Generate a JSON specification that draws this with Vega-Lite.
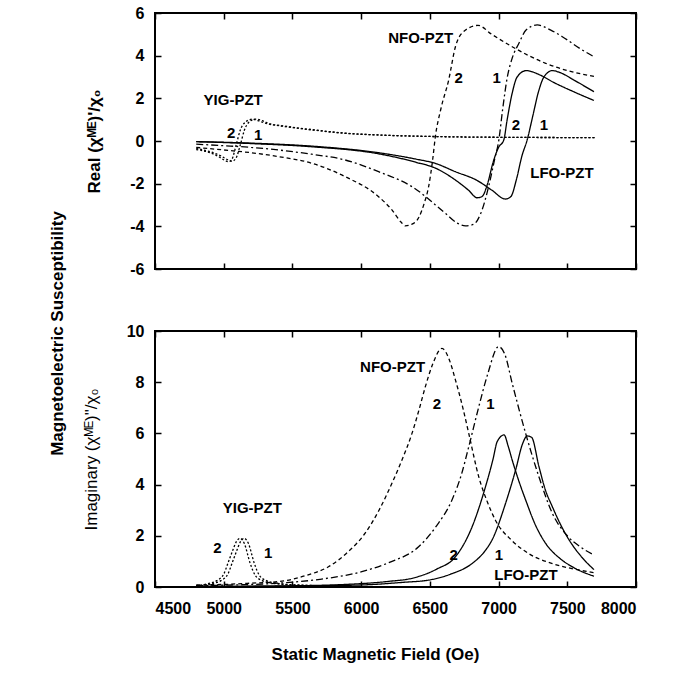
{
  "$schema": "https://vega.github.io/schema/vega-lite/v6.json",
  "background": "white",
  "padding": {"left": 49, "top": 4, "right": 5, "bottom": 2},
  "title": {"text": "Magnetoelectric Susceptibility", "orient": "left", "anchor": "middle", "font": "Liberation Sans", "fontSize": 17, "fontWeight": "bold", "color": "black", "offset": 14},
  "config": {
    "view": {"stroke": "black", "strokeWidth": 2},
    "axis": {"labelFont": "Liberation Sans", "labelFontWeight": "bold", "labelFontSize": 16, "labelColor": "black", "labelExpr": "'' + datum.value", "tickColor": "black", "tickSize": -6, "tickWidth": 1.5, "domain": false, "grid": false, "titleFont": "Liberation Sans", "titleFontSize": 17, "titleColor": "black"}
  },
  "datasets": {
    "real": [
      {"s":"YIG2","H":4800,"v":-0.40},{"s":"YIG2","H":4900,"v":-0.55},{"s":"YIG2","H":4960,"v":-0.72},{"s":"YIG2","H":5000,"v":-0.88},{"s":"YIG2","H":5035,"v":-0.97},{"s":"YIG2","H":5060,"v":-0.85},{"s":"YIG2","H":5090,"v":-0.2},{"s":"YIG2","H":5120,"v":0.5},{"s":"YIG2","H":5160,"v":0.9},{"s":"YIG2","H":5205,"v":1.02},{"s":"YIG2","H":5250,"v":0.95},{"s":"YIG2","H":5320,"v":0.8},{"s":"YIG2","H":5397,"v":0.72},{"s":"YIG2","H":5640,"v":0.52},{"s":"YIG2","H":5884,"v":0.36},{"s":"YIG2","H":6127,"v":0.28},{"s":"YIG2","H":6613,"v":0.2},{"s":"YIG2","H":7100,"v":0.17},{"s":"YIG2","H":7700,"v":0.16},
      {"s":"YIG1","H":4800,"v":-0.35},{"s":"YIG1","H":4900,"v":-0.5},{"s":"YIG1","H":4980,"v":-0.7},{"s":"YIG1","H":5030,"v":-0.88},{"s":"YIG1","H":5060,"v":-0.95},{"s":"YIG1","H":5090,"v":-0.8},{"s":"YIG1","H":5120,"v":-0.2},{"s":"YIG1","H":5150,"v":0.5},{"s":"YIG1","H":5190,"v":0.92},{"s":"YIG1","H":5235,"v":1.03},{"s":"YIG1","H":5280,"v":0.95},{"s":"YIG1","H":5340,"v":0.8},{"s":"YIG1","H":5420,"v":0.72},{"s":"YIG1","H":5660,"v":0.52},{"s":"YIG1","H":5900,"v":0.36},{"s":"YIG1","H":6140,"v":0.28},{"s":"YIG1","H":6620,"v":0.2},{"s":"YIG1","H":7100,"v":0.17},{"s":"YIG1","H":7700,"v":0.16},
      {"s":"NFO2","H":4800,"v":-0.3},{"s":"NFO2","H":5000,"v":-0.42},{"s":"NFO2","H":5200,"v":-0.55},{"s":"NFO2","H":5397,"v":-0.73},{"s":"NFO2","H":5640,"v":-1.04},{"s":"NFO2","H":5884,"v":-1.67},{"s":"NFO2","H":6127,"v":-2.61},{"s":"NFO2","H":6224,"v":-3.23},{"s":"NFO2","H":6290,"v":-3.8},{"s":"NFO2","H":6321,"v":-3.98},{"s":"NFO2","H":6370,"v":-3.9},{"s":"NFO2","H":6418,"v":-3.6},{"s":"NFO2","H":6460,"v":-2.9},{"s":"NFO2","H":6491,"v":-2.14},{"s":"NFO2","H":6520,"v":-0.9},{"s":"NFO2","H":6540,"v":0.2},{"s":"NFO2","H":6580,"v":1.5},{"s":"NFO2","H":6637,"v":2.86},{"s":"NFO2","H":6686,"v":4.42},{"s":"NFO2","H":6740,"v":5.1},{"s":"NFO2","H":6850,"v":5.42},{"s":"NFO2","H":6950,"v":5.0},{"s":"NFO2","H":7099,"v":4.42},{"s":"NFO2","H":7343,"v":3.64},{"s":"NFO2","H":7500,"v":3.3},{"s":"NFO2","H":7694,"v":3.03},
      {"s":"NFO1","H":4800,"v":-0.15},{"s":"NFO1","H":5000,"v":-0.22},{"s":"NFO1","H":5200,"v":-0.3},{"s":"NFO1","H":5397,"v":-0.42},{"s":"NFO1","H":5640,"v":-0.62},{"s":"NFO1","H":5884,"v":-0.89},{"s":"NFO1","H":6127,"v":-1.44},{"s":"NFO1","H":6370,"v":-2.14},{"s":"NFO1","H":6613,"v":-3.39},{"s":"NFO1","H":6700,"v":-3.85},{"s":"NFO1","H":6759,"v":-3.98},{"s":"NFO1","H":6820,"v":-3.9},{"s":"NFO1","H":6870,"v":-3.4},{"s":"NFO1","H":6929,"v":-2.1},{"s":"NFO1","H":6970,"v":-0.9},{"s":"NFO1","H":7002,"v":0.05},{"s":"NFO1","H":7030,"v":1.5},{"s":"NFO1","H":7062,"v":2.94},{"s":"NFO1","H":7100,"v":3.9},{"s":"NFO1","H":7148,"v":4.58},{"s":"NFO1","H":7200,"v":5.2},{"s":"NFO1","H":7281,"v":5.44},{"s":"NFO1","H":7380,"v":5.2},{"s":"NFO1","H":7464,"v":4.89},{"s":"NFO1","H":7600,"v":4.3},{"s":"NFO1","H":7694,"v":3.95},
      {"s":"LFO2","H":4800,"v":-0.03},{"s":"LFO2","H":5200,"v":-0.12},{"s":"LFO2","H":5640,"v":-0.27},{"s":"LFO2","H":6127,"v":-0.6},{"s":"LFO2","H":6400,"v":-1.0},{"s":"LFO2","H":6540,"v":-1.27},{"s":"LFO2","H":6686,"v":-1.83},{"s":"LFO2","H":6780,"v":-2.3},{"s":"LFO2","H":6844,"v":-2.66},{"s":"LFO2","H":6880,"v":-2.6},{"s":"LFO2","H":6920,"v":-2.0},{"s":"LFO2","H":6960,"v":-1.0},{"s":"LFO2","H":7000,"v":-0.3},{"s":"LFO2","H":7038,"v":0.05},{"s":"LFO2","H":7062,"v":0.98},{"s":"LFO2","H":7099,"v":2.24},{"s":"LFO2","H":7135,"v":3.0},{"s":"LFO2","H":7201,"v":3.3},{"s":"LFO2","H":7300,"v":3.1},{"s":"LFO2","H":7400,"v":2.75},{"s":"LFO2","H":7550,"v":2.3},{"s":"LFO2","H":7694,"v":1.9},
      {"s":"LFO1","H":4800,"v":-0.03},{"s":"LFO1","H":5200,"v":-0.1},{"s":"LFO1","H":5640,"v":-0.24},{"s":"LFO1","H":6127,"v":-0.55},{"s":"LFO1","H":6400,"v":-0.85},{"s":"LFO1","H":6540,"v":-1.05},{"s":"LFO1","H":6686,"v":-1.44},{"s":"LFO1","H":6844,"v":-1.85},{"s":"LFO1","H":6950,"v":-2.3},{"s":"LFO1","H":7050,"v":-2.72},{"s":"LFO1","H":7090,"v":-2.6},{"s":"LFO1","H":7130,"v":-1.8},{"s":"LFO1","H":7170,"v":-0.7},{"s":"LFO1","H":7208,"v":0.05},{"s":"LFO1","H":7250,"v":1.2},{"s":"LFO1","H":7290,"v":2.3},{"s":"LFO1","H":7330,"v":3.0},{"s":"LFO1","H":7391,"v":3.3},{"s":"LFO1","H":7450,"v":3.2},{"s":"LFO1","H":7550,"v":2.85},{"s":"LFO1","H":7694,"v":2.31}
    ],
    "imag": [
      {"s":"YIG2","H":4800,"v":0.05},{"s":"YIG2","H":4900,"v":0.15},{"s":"YIG2","H":4950,"v":0.25},{"s":"YIG2","H":5000,"v":0.5},{"s":"YIG2","H":5032,"v":0.95},{"s":"YIG2","H":5060,"v":1.35},{"s":"YIG2","H":5090,"v":1.75},{"s":"YIG2","H":5118,"v":1.9},{"s":"YIG2","H":5150,"v":1.7},{"s":"YIG2","H":5191,"v":0.95},{"s":"YIG2","H":5230,"v":0.45},{"s":"YIG2","H":5280,"v":0.25},{"s":"YIG2","H":5350,"v":0.15},{"s":"YIG2","H":5500,"v":0.08},{"s":"YIG2","H":5700,"v":0.05},
      {"s":"YIG1","H":4830,"v":0.05},{"s":"YIG1","H":4930,"v":0.15},{"s":"YIG1","H":4980,"v":0.25},{"s":"YIG1","H":5030,"v":0.5},{"s":"YIG1","H":5062,"v":0.95},{"s":"YIG1","H":5090,"v":1.35},{"s":"YIG1","H":5120,"v":1.75},{"s":"YIG1","H":5148,"v":1.9},{"s":"YIG1","H":5180,"v":1.7},{"s":"YIG1","H":5221,"v":0.95},{"s":"YIG1","H":5260,"v":0.45},{"s":"YIG1","H":5310,"v":0.25},{"s":"YIG1","H":5380,"v":0.15},{"s":"YIG1","H":5530,"v":0.08},{"s":"YIG1","H":5730,"v":0.05},
      {"s":"NFO2","H":4800,"v":0.08},{"s":"NFO2","H":5000,"v":0.1},{"s":"NFO2","H":5200,"v":0.15},{"s":"NFO2","H":5397,"v":0.21},{"s":"NFO2","H":5600,"v":0.45},{"s":"NFO2","H":5762,"v":0.79},{"s":"NFO2","H":5900,"v":1.35},{"s":"NFO2","H":6029,"v":2.1},{"s":"NFO2","H":6130,"v":3.0},{"s":"NFO2","H":6224,"v":4.05},{"s":"NFO2","H":6300,"v":5.0},{"s":"NFO2","H":6370,"v":6.0},{"s":"NFO2","H":6420,"v":6.9},{"s":"NFO2","H":6467,"v":7.82},{"s":"NFO2","H":6520,"v":8.7},{"s":"NFO2","H":6588,"v":9.32},{"s":"NFO2","H":6640,"v":8.9},{"s":"NFO2","H":6686,"v":8.09},{"s":"NFO2","H":6740,"v":7.0},{"s":"NFO2","H":6783,"v":6.0},{"s":"NFO2","H":6856,"v":4.3},{"s":"NFO2","H":6920,"v":3.3},{"s":"NFO2","H":6978,"v":2.6},{"s":"NFO2","H":7100,"v":1.8},{"s":"NFO2","H":7221,"v":1.3},{"s":"NFO2","H":7400,"v":0.9},{"s":"NFO2","H":7550,"v":0.7},{"s":"NFO2","H":7694,"v":0.56},
      {"s":"NFO1","H":4800,"v":0.05},{"s":"NFO1","H":5000,"v":0.07},{"s":"NFO1","H":5397,"v":0.15},{"s":"NFO1","H":5700,"v":0.3},{"s":"NFO1","H":6005,"v":0.6},{"s":"NFO1","H":6200,"v":0.95},{"s":"NFO1","H":6418,"v":1.57},{"s":"NFO1","H":6550,"v":2.4},{"s":"NFO1","H":6661,"v":3.4},{"s":"NFO1","H":6730,"v":4.4},{"s":"NFO1","H":6783,"v":5.48},{"s":"NFO1","H":6856,"v":7.04},{"s":"NFO1","H":6920,"v":8.3},{"s":"NFO1","H":7000,"v":9.39},{"s":"NFO1","H":7045,"v":9.1},{"s":"NFO1","H":7099,"v":7.96},{"s":"NFO1","H":7197,"v":6.0},{"s":"NFO1","H":7294,"v":4.3},{"s":"NFO1","H":7391,"v":2.88},{"s":"NFO1","H":7500,"v":2.0},{"s":"NFO1","H":7600,"v":1.55},{"s":"NFO1","H":7694,"v":1.25},
      {"s":"LFO2","H":4800,"v":0.02},{"s":"LFO2","H":5400,"v":0.04},{"s":"LFO2","H":5884,"v":0.1},{"s":"LFO2","H":6200,"v":0.22},{"s":"LFO2","H":6370,"v":0.34},{"s":"LFO2","H":6550,"v":0.7},{"s":"LFO2","H":6686,"v":1.18},{"s":"LFO2","H":6808,"v":2.36},{"s":"LFO2","H":6905,"v":3.92},{"s":"LFO2","H":6960,"v":5.0},{"s":"LFO2","H":6990,"v":5.68},{"s":"LFO2","H":7040,"v":5.94},{"s":"LFO2","H":7070,"v":5.5},{"s":"LFO2","H":7099,"v":4.96},{"s":"LFO2","H":7150,"v":4.1},{"s":"LFO2","H":7197,"v":3.4},{"s":"LFO2","H":7270,"v":2.4},{"s":"LFO2","H":7343,"v":1.7},{"s":"LFO2","H":7450,"v":1.1},{"s":"LFO2","H":7550,"v":0.75},{"s":"LFO2","H":7694,"v":0.42},
      {"s":"LFO1","H":4800,"v":0.02},{"s":"LFO1","H":5500,"v":0.04},{"s":"LFO1","H":6005,"v":0.08},{"s":"LFO1","H":6300,"v":0.18},{"s":"LFO1","H":6491,"v":0.27},{"s":"LFO1","H":6650,"v":0.5},{"s":"LFO1","H":6808,"v":0.92},{"s":"LFO1","H":6900,"v":1.4},{"s":"LFO1","H":6953,"v":1.84},{"s":"LFO1","H":7051,"v":3.27},{"s":"LFO1","H":7124,"v":4.57},{"s":"LFO1","H":7175,"v":5.6},{"s":"LFO1","H":7208,"v":5.9},{"s":"LFO1","H":7240,"v":5.85},{"s":"LFO1","H":7294,"v":4.7},{"s":"LFO1","H":7340,"v":3.8},{"s":"LFO1","H":7391,"v":3.14},{"s":"LFO1","H":7450,"v":2.45},{"s":"LFO1","H":7513,"v":1.84},{"s":"LFO1","H":7600,"v":1.2},{"s":"LFO1","H":7694,"v":0.68}
    ],
    "realLab": [
      {"H":5069,"v":1.92,"t":"YIG-PZT"},{"H":5054,"v":0.38,"t":"2"},{"H":5251,"v":0.28,"t":"1"},
      {"H":6433,"v":4.83,"t":"NFO-PZT"},{"H":6710,"v":2.95,"t":"2"},{"H":6987,"v":2.95,"t":"1"},
      {"H":7126,"v":0.75,"t":"2"},{"H":7330,"v":0.75,"t":"1"},{"H":7461,"v":-1.5,"t":"LFO-PZT"}
    ],
    "imagLab": [
      {"H":6229,"v":8.59,"t":"NFO-PZT"},{"H":6552,"v":7.15,"t":"2"},{"H":6941,"v":7.15,"t":"1"},
      {"H":5208,"v":3.07,"t":"YIG-PZT"},{"H":4954,"v":1.51,"t":"2"},{"H":5324,"v":1.32,"t":"1"},
      {"H":6674,"v":1.25,"t":"2"},{"H":7002,"v":1.25,"t":"1"},{"H":7199,"v":0.47,"t":"LFO-PZT"}
    ]
  },
  "spacing": 44,
  "vconcat": [
    {
      "width": 481, "height": 256,
      "layer": [
        {
          "data": {"name": "real"},
          "mark": {"type": "line", "interpolate": "monotone", "strokeWidth": 1.3, "color": "black"},
          "encoding": {
            "x": {"field": "H", "type": "quantitative", "scale": {"domain": [4500, 8000], "nice": false, "zero": false}, "axis": {"orient": "bottom", "values": [4500,5000,5500,6000,6500,7000,7500,8000], "labels": false, "title": null}},
            "y": {"field": "v", "type": "quantitative", "scale": {"domain": [-6, 6], "nice": false}, "axis": {"orient": "left", "values": [-6,-4,-2,0,2,4,6], "labelPadding": 17, "title": "Real  (χᴹᴱ)'/χ₀", "titleFontWeight": "bold", "titlePadding": 26}},
            "strokeDash": {"field": "s", "type": "nominal", "scale": {"domain": ["YIG1","YIG2","NFO1","NFO2","LFO1","LFO2"], "range": [[2,2],[2,2],[7,3,2,3],[4,3],[1,0],[1,0]]}, "legend": null}
          }
        },
        {
          "data": {"name": "realLab"},
          "mark": {"type": "text", "font": "Liberation Sans", "fontWeight": "bold", "fontSize": 15, "color": "black"},
          "encoding": {
            "x": {"field": "H", "type": "quantitative", "axis": {"orient": "top", "values": [4500,5000,5500,6000,6500,7000,7500,8000], "labels": false, "title": null}},
            "y": {"field": "v", "type": "quantitative", "axis": {"orient": "right", "values": [-6,-4,-2,0,2,4,6], "labels": false, "title": null}},
            "text": {"field": "t"}
          }
        }
      ],
      "resolve": {"axis": {"x": "independent", "y": "independent"}}
    },
    {
      "width": 481, "height": 256,
      "layer": [
        {
          "data": {"name": "imag"},
          "mark": {"type": "line", "interpolate": "monotone", "strokeWidth": 1.3, "color": "black"},
          "encoding": {
            "x": {"field": "H", "type": "quantitative", "scale": {"domain": [4500, 8000], "nice": false, "zero": false}, "axis": {"orient": "bottom", "values": [4500,5000,5500,6000,6500,7000,7500,8000], "labelPadding": 19, "title": "Static Magnetic Field (Oe)", "titleFontWeight": "bold", "titlePadding": 30, "titleX": 220}},
            "y": {"field": "v", "type": "quantitative", "scale": {"domain": [0, 10], "nice": false}, "axis": {"orient": "left", "values": [0,2,4,6,8,10], "labelPadding": 17, "title": "Imaginary (χᴹᴱ)\"/χ₀", "titleFontWeight": "normal", "titlePadding": 26}},
            "strokeDash": {"field": "s", "type": "nominal", "scale": {"domain": ["YIG1","YIG2","NFO1","NFO2","LFO1","LFO2"], "range": [[2,2],[2,2],[7,3,2,3],[4,3],[1,0],[1,0]]}, "legend": null}
          }
        },
        {
          "data": {"name": "imagLab"},
          "mark": {"type": "text", "font": "Liberation Sans", "fontWeight": "bold", "fontSize": 15, "color": "black"},
          "encoding": {
            "x": {"field": "H", "type": "quantitative", "axis": {"orient": "top", "values": [4500,5000,5500,6000,6500,7000,7500,8000], "labels": false, "title": null}},
            "y": {"field": "v", "type": "quantitative", "axis": {"orient": "right", "values": [0,2,4,6,8,10], "labels": false, "title": null}},
            "text": {"field": "t"}
          }
        }
      ],
      "resolve": {"axis": {"x": "independent", "y": "independent"}}
    }
  ]
}
